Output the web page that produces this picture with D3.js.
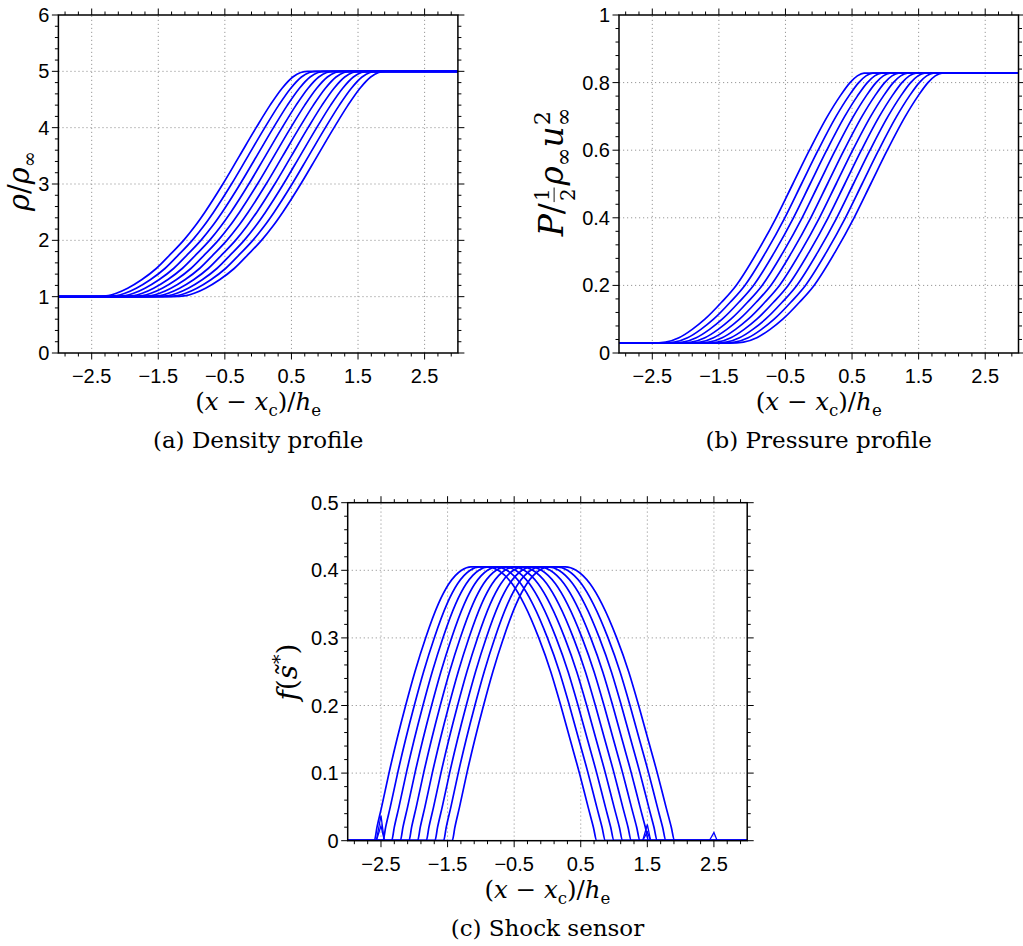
<!DOCTYPE html>
<html>
<head>
<meta charset="utf-8">
<script src="https://cdn.jsdelivr.net/npm/d3@7"></script>
<style>
  body { margin: 0; background: #fff; }
</style>
</head>
<body>
<div id="chart"></div>
<script>
// x ticks shared by the three panels
const xTicks = [-2.5, -1.5, -0.5, 0.5, 1.5, 2.5];

// (a) density: rho levels, and for each curve the x where it reaches each level
const rhoLevels = [1.0, 1.02, 1.06, 1.15, 1.3, 1.5, 1.75, 2.0, 2.25, 2.5, 3.0, 3.5, 4.0, 4.4, 4.7, 4.9, 4.98, 5.0];
const rhoX = [
  [-2.45, -2.25, -2.13, -1.96, -1.75, -1.53, -1.32, -1.12, -0.95, -0.80, -0.53, -0.28, -0.03, 0.18, 0.36, 0.52, 0.64, 0.75],
  [-2.32, -2.12, -2.00, -1.83, -1.62, -1.40, -1.19, -0.99, -0.82, -0.67, -0.40, -0.15, 0.10, 0.31, 0.49, 0.65, 0.77, 0.88],
  [-2.19, -1.99, -1.87, -1.70, -1.49, -1.27, -1.06, -0.86, -0.69, -0.54, -0.27, -0.02, 0.23, 0.44, 0.62, 0.78, 0.90, 1.01],
  [-2.06, -1.86, -1.74, -1.57, -1.36, -1.14, -0.93, -0.73, -0.56, -0.41, -0.14, 0.11, 0.36, 0.57, 0.75, 0.91, 1.03, 1.14],
  [-1.93, -1.73, -1.61, -1.44, -1.23, -1.01, -0.80, -0.60, -0.43, -0.28, -0.01, 0.24, 0.49, 0.70, 0.88, 1.04, 1.16, 1.27],
  [-1.80, -1.60, -1.48, -1.31, -1.10, -0.88, -0.67, -0.47, -0.30, -0.15, 0.12, 0.37, 0.62, 0.83, 1.01, 1.17, 1.29, 1.40],
  [-1.67, -1.47, -1.35, -1.18, -0.97, -0.75, -0.54, -0.34, -0.17, -0.02, 0.25, 0.50, 0.75, 0.96, 1.14, 1.30, 1.42, 1.53],
  [-1.54, -1.34, -1.22, -1.05, -0.84, -0.62, -0.41, -0.21, -0.04, 0.11, 0.38, 0.63, 0.88, 1.09, 1.27, 1.43, 1.55, 1.66],
  [-1.41, -1.21, -1.09, -0.92, -0.71, -0.49, -0.28, -0.08, 0.09, 0.24, 0.51, 0.76, 1.01, 1.22, 1.40, 1.56, 1.68, 1.79],
  [-1.28, -1.08, -0.96, -0.79, -0.58, -0.36, -0.15, 0.05, 0.22, 0.37, 0.64, 0.89, 1.14, 1.35, 1.53, 1.69, 1.81, 1.92]
];
const rhoTicks = [0, 1, 2, 3, 4, 5, 6];

// (b) pressure
const pLevels = [0.029, 0.032, 0.045, 0.07, 0.1, 0.15, 0.2, 0.3, 0.4, 0.5, 0.6, 0.7, 0.76, 0.8, 0.82, 0.828];
const pX = [
  [-2.50, -2.30, -2.10, -1.90, -1.71, -1.46, -1.24, -0.92, -0.64, -0.39, -0.14, 0.13, 0.32, 0.47, 0.58, 0.68],
  [-2.37, -2.17, -1.97, -1.77, -1.58, -1.33, -1.11, -0.79, -0.51, -0.26, -0.01, 0.26, 0.45, 0.60, 0.71, 0.81],
  [-2.24, -2.04, -1.84, -1.64, -1.45, -1.20, -0.98, -0.66, -0.38, -0.13, 0.12, 0.39, 0.58, 0.73, 0.84, 0.94],
  [-2.11, -1.91, -1.71, -1.51, -1.32, -1.07, -0.85, -0.53, -0.25, 0.00, 0.25, 0.52, 0.71, 0.86, 0.97, 1.07],
  [-1.98, -1.78, -1.58, -1.38, -1.19, -0.94, -0.72, -0.40, -0.12, 0.13, 0.38, 0.65, 0.84, 0.99, 1.10, 1.20],
  [-1.85, -1.65, -1.45, -1.25, -1.06, -0.81, -0.59, -0.27, 0.01, 0.26, 0.51, 0.78, 0.97, 1.12, 1.23, 1.33],
  [-1.72, -1.52, -1.32, -1.12, -0.93, -0.68, -0.46, -0.14, 0.14, 0.39, 0.64, 0.91, 1.10, 1.25, 1.36, 1.46],
  [-1.59, -1.39, -1.19, -0.99, -0.80, -0.55, -0.33, -0.01, 0.27, 0.52, 0.77, 1.04, 1.23, 1.38, 1.49, 1.59],
  [-1.46, -1.26, -1.06, -0.86, -0.67, -0.42, -0.20, 0.12, 0.40, 0.65, 0.90, 1.17, 1.36, 1.51, 1.62, 1.72],
  [-1.33, -1.13, -0.93, -0.73, -0.54, -0.29, -0.07, 0.25, 0.53, 0.78, 1.03, 1.30, 1.49, 1.64, 1.75, 1.85]
];
const pTicks = [0, 0.2, 0.4, 0.6, 0.8, 1];

// (c) shock sensor: up the left flank, across the top, down the right flank
const fLevels = [0, 0.02, 0.05, 0.1, 0.15, 0.2, 0.25, 0.3, 0.35, 0.38, 0.4, 0.405,
                 0.405, 0.4, 0.38, 0.35, 0.3, 0.25, 0.2, 0.15, 0.1, 0.05, 0.02, 0];
const fX = [
  [-2.60, -2.56, -2.49, -2.38, -2.26, -2.13, -1.99, -1.83, -1.64, -1.48, -1.29, -1.15, -0.90, -0.74, -0.53, -0.35, -0.13, 0.05, 0.20, 0.34, 0.48, 0.61, 0.69, 0.74],
  [-2.47, -2.43, -2.36, -2.25, -2.13, -2.00, -1.86, -1.70, -1.51, -1.35, -1.16, -1.02, -0.77, -0.61, -0.40, -0.22, 0.00, 0.18, 0.33, 0.47, 0.61, 0.74, 0.82, 0.87],
  [-2.34, -2.30, -2.23, -2.12, -2.00, -1.87, -1.73, -1.57, -1.38, -1.22, -1.03, -0.89, -0.64, -0.48, -0.27, -0.09, 0.13, 0.31, 0.46, 0.60, 0.74, 0.87, 0.95, 1.00],
  [-2.21, -2.17, -2.10, -1.99, -1.87, -1.74, -1.60, -1.44, -1.25, -1.09, -0.90, -0.76, -0.51, -0.35, -0.14, 0.04, 0.26, 0.44, 0.59, 0.73, 0.87, 1.00, 1.08, 1.13],
  [-2.08, -2.04, -1.97, -1.86, -1.74, -1.61, -1.47, -1.31, -1.12, -0.96, -0.77, -0.63, -0.38, -0.22, -0.01, 0.17, 0.39, 0.57, 0.72, 0.86, 1.00, 1.13, 1.21, 1.26],
  [-1.95, -1.91, -1.84, -1.73, -1.61, -1.48, -1.34, -1.18, -0.99, -0.83, -0.64, -0.50, -0.25, -0.09, 0.12, 0.30, 0.52, 0.70, 0.85, 0.99, 1.13, 1.26, 1.34, 1.39],
  [-1.82, -1.78, -1.71, -1.60, -1.48, -1.35, -1.21, -1.05, -0.86, -0.70, -0.51, -0.37, -0.12, 0.04, 0.25, 0.43, 0.65, 0.83, 0.98, 1.12, 1.26, 1.39, 1.47, 1.52],
  [-1.69, -1.65, -1.58, -1.47, -1.35, -1.22, -1.08, -0.92, -0.73, -0.57, -0.38, -0.24, 0.01, 0.17, 0.38, 0.56, 0.78, 0.96, 1.11, 1.25, 1.39, 1.52, 1.60, 1.65],
  [-1.56, -1.52, -1.45, -1.34, -1.22, -1.09, -0.95, -0.79, -0.60, -0.44, -0.25, -0.11, 0.14, 0.30, 0.51, 0.69, 0.91, 1.09, 1.24, 1.38, 1.52, 1.65, 1.73, 1.78],
  [-1.43, -1.39, -1.32, -1.21, -1.09, -0.96, -0.82, -0.66, -0.47, -0.31, -0.12, 0.02, 0.27, 0.43, 0.64, 0.82, 1.04, 1.22, 1.37, 1.51, 1.65, 1.78, 1.86, 1.91]
];
// little spikes sitting on the zero line (x, height)
const fSpikes = [[-2.5, 0.037], [-2.5, 0.022], [1.5, 0.024], [1.5, 0.013], [2.5, 0.012]];
const fTicks = [0, 0.1, 0.2, 0.3, 0.4, 0.5];

const width = 1023, height = 946;
const sans = "'Liberation Sans', Arial, Helvetica, sans-serif";
const serif = "'DejaVu Serif', 'Liberation Serif', serif";
const blue = "#0000ff";

const svg = d3.select("#chart").append("svg")
  .attr("width", width)
  .attr("height", height);

// build [x, y] lists from level tables, padded to the plot edges
function series(levels, rows) {
  return rows.map(r => {
    const pts = r.map((x, i) => [x, levels[i]]);
    return [[-3, levels[0]], ...pts, [3, levels[levels.length - 1]]];
  });
}

// lays out a little math string: pieces of text with optional sub/sup and fractions.
// if target is given the font size is adjusted so the string is that long
function mathText(parent, pieces, size, target) {
  const t = parent.append("g").attr("font-family", serif);
  function layout(sz) {
    t.selectAll("*").remove();
    t.attr("font-size", sz);
    let cx = 0;
    pieces.forEach(p => {
      if (p.frac) {
        const fs = sz * 0.6;
        const a = t.append("text").attr("font-size", fs).attr("y", -sz * 0.42).text(p.frac[0]);
        const b = t.append("text").attr("font-size", fs).attr("y", sz * 0.36).text(p.frac[1]);
        const wa = a.node().getComputedTextLength(), wb = b.node().getComputedTextLength();
        const wf = Math.max(wa, wb) + 2;
        a.attr("x", cx + 1 + (wf - wa) / 2);
        b.attr("x", cx + 1 + (wf - wb) / 2);
        t.append("line")
          .attr("x1", cx + 1).attr("x2", cx + 1 + wf)
          .attr("y1", -sz * 0.27).attr("y2", -sz * 0.27)
          .attr("stroke", "#000").attr("stroke-width", 0.9);
        cx += wf + 3;
        return;
      }
      const m = t.append("text")
        .attr("x", cx)
        .attr("font-style", p.it ? "italic" : null)
        .text(p.t);
      cx += m.node().getComputedTextLength();
      let adv = 0;
      if (p.sub) {
        const s = t.append("text").attr("x", cx).attr("y", sz * 0.24)
          .attr("font-size", sz * 0.68).text(p.sub);
        adv = Math.max(adv, s.node().getComputedTextLength());
      }
      if (p.sup) {
        const s = t.append("text").attr("x", cx + 1).attr("y", -sz * 0.4)
          .attr("font-size", sz * 0.68).text(p.sup);
        adv = Math.max(adv, s.node().getComputedTextLength() + 1);
      }
      cx += adv;
    });
    return cx;
  }
  let w = layout(size);
  if (target) w = layout(size * target / w);
  t.attr("transform", `translate(${-w / 2},0)`);
}

const xLabel = [
  {t: "("}, {t: "x", it: true}, {t: "\u00a0−\u00a0"}, {t: "x", it: true, sub: "c"},
  {t: ")/"}, {t: "h", it: true, sub: "e"}
];

function drawPanel(cfg) {
  const x = d3.scaleLinear().domain([-3, 3]).range([cfg.left, cfg.left + cfg.w]);
  const y = d3.scaleLinear().domain(cfg.yDomain).range([cfg.top + cfg.h, cfg.top]);
  const g = svg.append("g");
  const x0 = cfg.left, x1 = cfg.left + cfg.w, y0 = cfg.top + cfg.h, y1 = cfg.top;

  // dotted grid
  const grid = g.append("g")
    .attr("stroke", "#999")
    .attr("stroke-width", 1)
    .attr("stroke-dasharray", "1.2,2.8");
  grid.selectAll(".gx").data(xTicks).join("line")
    .attr("x1", d => x(d)).attr("x2", d => x(d))
    .attr("y1", y0).attr("y2", y1);
  grid.selectAll(".gy").data(cfg.yTicks.slice(1, -1)).join("line")
    .attr("x1", x0).attr("x2", x1)
    .attr("y1", d => y(d)).attr("y2", d => y(d));

  // curves
  const clipId = "clip-" + cfg.id;
  g.append("clipPath").attr("id", clipId)
    .append("rect").attr("x", x0).attr("y", y1).attr("width", cfg.w).attr("height", cfg.h);
  const line = d3.line()
    .x(d => x(d[0]))
    .y(d => y(d[1]))
    .curve(d3.curveMonotoneX);
  const cg = g.append("g").attr("clip-path", `url(#${clipId})`);
  cg.selectAll("path.curve").data(cfg.curves).join("path")
    .attr("class", "curve")
    .attr("fill", "none")
    .attr("stroke", blue)
    .attr("stroke-width", 1.7)
    .attr("stroke-linejoin", "round")
    .attr("d", line);
  if (cfg.spikes) {
    cg.selectAll("path.spike").data(cfg.spikes).join("path")
      .attr("class", "spike")
      .attr("fill", "none")
      .attr("stroke", blue)
      .attr("stroke-width", 1.3)
      .attr("d", d => d3.line()([[x(d[0] - 0.07), y(0)], [x(d[0]), y(d[1])], [x(d[0] + 0.05), y(0)]]));
  }

  // ticks, outside on all four sides
  const ticks = g.append("g").attr("stroke", "#000").attr("stroke-width", 1);
  const xMinor = d3.range(-29, 30, 2).map(v => v / 10);
  const yStep = (cfg.yTicks[1] - cfg.yTicks[0]) / 5;
  const yMinor = d3.range(0, 5 * (cfg.yTicks.length - 1) + 1).map(i => cfg.yDomain[0] + i * yStep);
  const isMajorX = v => xTicks.some(t => Math.abs(t - v) < 1e-6);
  const isMajorY = v => cfg.yTicks.some(t => Math.abs(t - v) < 1e-6);
  xMinor.forEach(v => {
    const L = isMajorX(v) ? 6.5 : 3.5;
    ticks.append("line").attr("x1", x(v)).attr("x2", x(v)).attr("y1", y0).attr("y2", y0 + L);
    ticks.append("line").attr("x1", x(v)).attr("x2", x(v)).attr("y1", y1).attr("y2", y1 - L);
  });
  yMinor.forEach(v => {
    const L = isMajorY(v) ? 6.5 : 3.5;
    ticks.append("line").attr("x1", x0).attr("x2", x0 - L).attr("y1", y(v)).attr("y2", y(v));
    ticks.append("line").attr("x1", x1).attr("x2", x1 + L).attr("y1", y(v)).attr("y2", y(v));
  });

  // frame
  g.append("rect")
    .attr("x", x0).attr("y", y1).attr("width", cfg.w).attr("height", cfg.h)
    .attr("fill", "none").attr("stroke", "#000").attr("stroke-width", 1.5);

  // tick labels
  const fmt = d3.format("~g");
  g.append("g").attr("font-family", sans).attr("font-size", 20).attr("text-anchor", "middle")
    .selectAll("text").data(xTicks).join("text")
    .attr("x", d => x(d)).attr("y", y0 + 30)
    .text(d => fmt(d));
  g.append("g").attr("font-family", sans).attr("font-size", 20).attr("text-anchor", "end")
    .selectAll("text").data(cfg.yTicks).join("text")
    .attr("x", x0 - 9).attr("y", d => y(d) + 7)
    .text(d => fmt(d));

  // axis titles
  const xl = g.append("g").attr("transform", `translate(${(x0 + x1) / 2},${y0 + 57})`);
  mathText(xl, xLabel, 24, 126);
  const yl = g.append("g").attr("transform", `translate(${x0 + cfg.yLabelDx},${cfg.yLabelY}) rotate(-90)`);
  mathText(yl, cfg.yLabel, 26, cfg.yLabelLen);

  // caption
  g.append("text")
    .attr("x", (x0 + x1) / 2).attr("y", y0 + 95)
    .attr("text-anchor", "middle")
    .attr("font-family", serif)
    .attr("font-size", 23)
    .text(cfg.caption);
}

drawPanel({
  id: "a", left: 58.4, top: 15, w: 399.5, h: 338,
  yDomain: [0, 6], yTicks: rhoTicks,
  curves: series(rhoLevels, rhoX),
  yLabel: [{t: "ρ", it: true}, {t: "/"}, {t: "ρ", it: true, sub: "∞"}],
  yLabelDx: -29, yLabelY: 181, yLabelLen: 60,
  caption: "(a) Density profile"
});

drawPanel({
  id: "b", left: 619, top: 15, w: 399.5, h: 338,
  yDomain: [0, 1], yTicks: pTicks,
  curves: series(pLevels, pX),
  yLabel: [{t: "P", it: true}, {t: "/"}, {frac: ["1", "2"]}, {t: "ρ", it: true, sub: "∞"},
           {t: "u", it: true, sub: "∞", sup: "2"}],
  yLabelDx: -56, yLabelY: 172, yLabelLen: 130,
  caption: "(b) Pressure profile"
});

drawPanel({
  id: "c", left: 347.7, top: 502.7, w: 399.5, h: 338,
  yDomain: [0, 0.5], yTicks: fTicks,
  curves: series(fLevels, fX),
  spikes: fSpikes,
  yLabel: [{t: "f", it: true}, {t: "("}, {t: "s\u0303", it: true, sup: "*"}, {t: ")"}],
  yLabelDx: -51, yLabelY: 672, yLabelLen: 57,
  caption: "(c) Shock sensor"
});
</script>
</body>
</html>
